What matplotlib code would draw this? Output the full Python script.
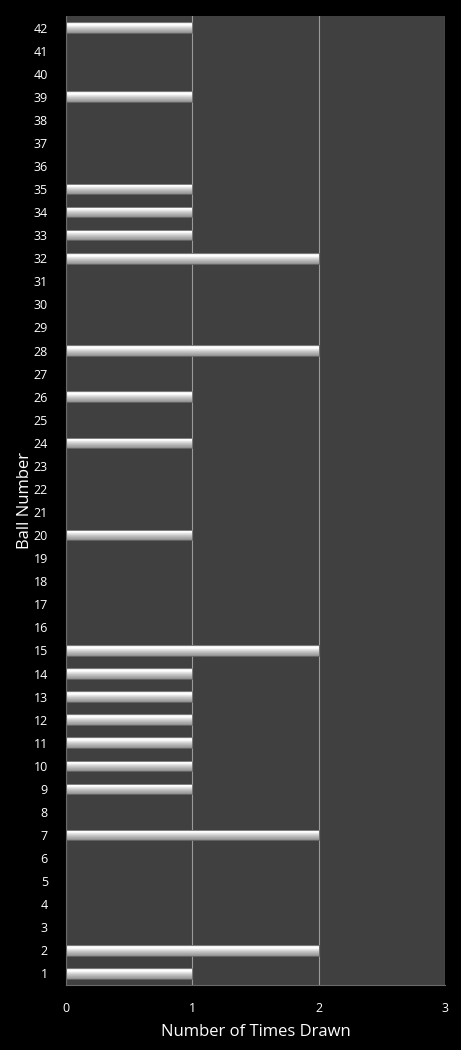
import matplotlib
matplotlib.use("Agg")
import matplotlib.pyplot as plt
import numpy as np

balls = list(range(1, 43))
counts = [1, 2, 0, 0, 0, 0, 2, 0, 1, 1, 1, 1, 1, 1, 2, 0, 0, 0, 0, 1,
          0, 0, 0, 1, 0, 1, 0, 2, 0, 0, 0, 2, 1, 1, 1, 0, 0, 0, 1, 0, 0, 1]
x_ticks = [0, 1, 2, 3]

plt.rcParams['font.family'] = ['Open Sans', 'DejaVu Sans']

fig = plt.figure(figsize=(4.61, 10.5), dpi=100, facecolor='black')
ax = fig.add_axes([66/461, 65/1050, (445-66)/461, (985-16)/1050])
ax.set_facecolor('#404040')

bar_h = 0.46
# vertical gradient: bright highlight near top, darker gray at bottom
grad_vals = np.array([0.78, 0.95, 1.0, 0.97, 0.90, 0.84, 0.78, 0.73, 0.68, 0.64, 0.58])
grad = np.stack([grad_vals]*3 + [np.ones_like(grad_vals)], axis=-1)[:, None, :]

bars = ax.barh(balls, counts, height=bar_h, color='none', edgecolor='#6a6a6a', linewidth=0.6, zorder=3)
for b, c in zip(bars, counts):
    if c <= 0:
        continue
    x0, y0 = b.get_x(), b.get_y()
    w, h = b.get_width(), b.get_height()
    im = ax.imshow(grad, extent=[x0, x0 + w, y0, y0 + h], origin='upper',
                   aspect='auto', interpolation='bilinear', zorder=2)
    im.set_clip_path(b)

ax.set_xlim(0, 3)
ax.set_ylim(0.5, 42.5)
ax.set_xticks(x_ticks)
ax.set_yticks(balls)
ax.tick_params(colors='white', labelsize=9, length=0)
ax.tick_params(axis='y', pad=13)
ax.tick_params(axis='x', pad=12)
ax.grid(axis='x', color='#9a9a9a', linewidth=0.8, zorder=1)
for s in ax.spines.values():
    s.set_visible(False)
ax.spines['left'].set_visible(True)
ax.spines['bottom'].set_visible(True)
ax.spines['left'].set_color('#6a6a6a')
ax.spines['bottom'].set_color('#6a6a6a')
ax.set_xlabel('Number of Times Drawn', color='white', fontsize=12, labelpad=7)
ax.set_ylabel('Ball Number', color='white', fontsize=12, va='center')
ax.yaxis.set_label_coords(-0.108, 0.5)

fig.savefig('out.png', dpi=100, facecolor='black')
